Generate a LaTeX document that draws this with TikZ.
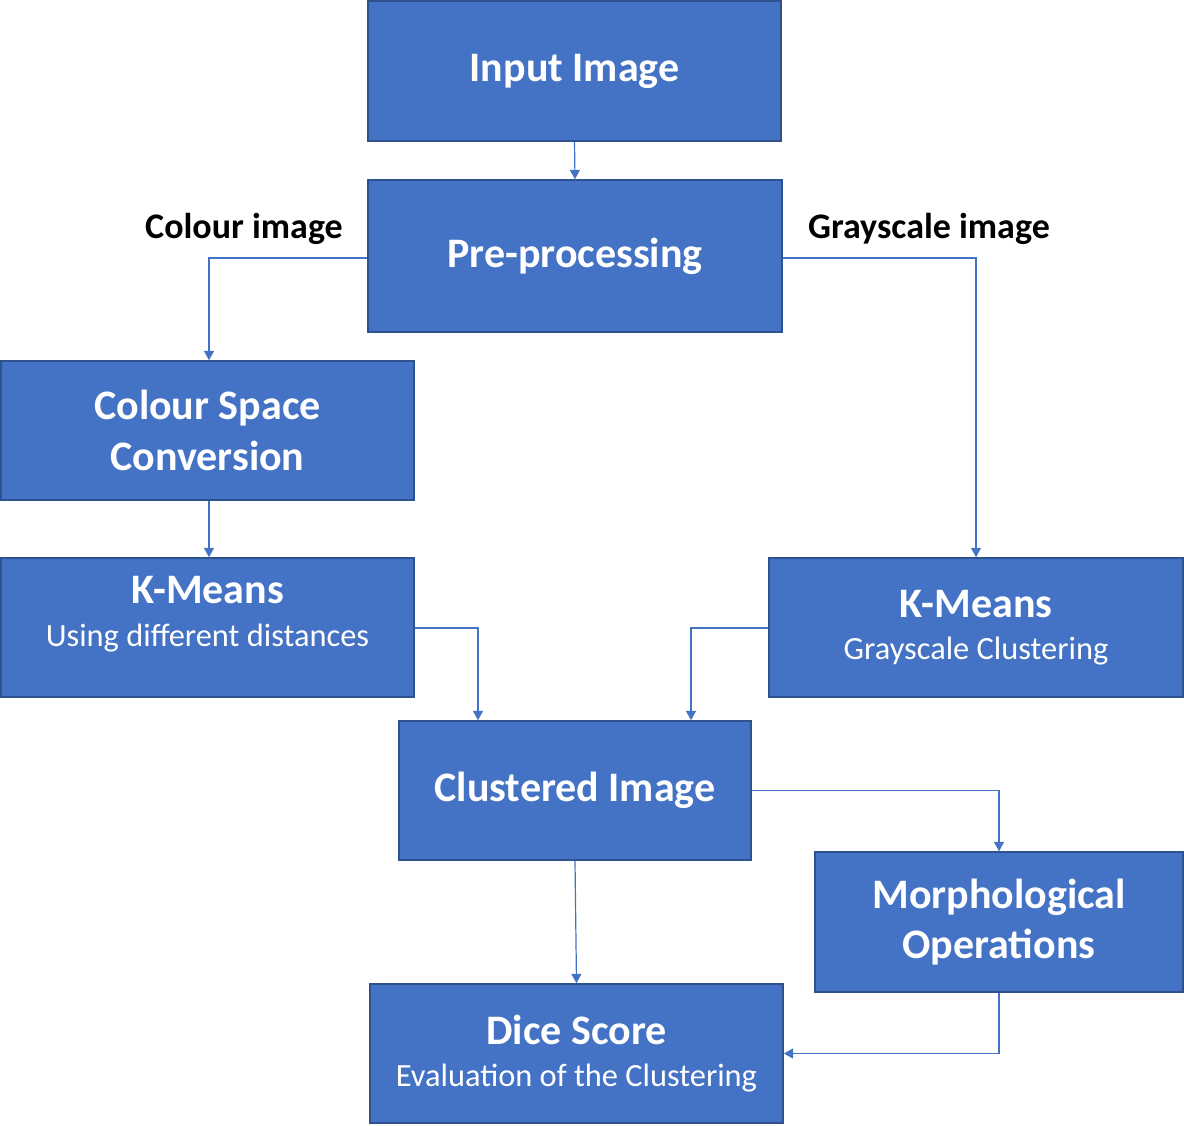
\documentclass[tikz,border=0pt]{standalone}
\usepackage{fontspec}
\setmainfont{Carlito}
\usetikzlibrary{arrows.meta}
\definecolor{boxfill}{HTML}{4472C4}
\definecolor{boxline}{HTML}{2F528F}
\begin{document}
\begin{tikzpicture}[x=0.75pt,y=-0.75pt,
  box/.style={draw=boxline,line width=1.2pt,fill=boxfill,rectangle,inner sep=0pt,text=white,align=center,
    font=\fontsize{31.5}{38}\selectfont\bfseries},
  sub/.style={text=white,align=center,inner sep=0pt,font=\fontsize{31.5}{38}\selectfont\bfseries},
  conn/.style={draw=boxfill,line width=0.9pt,-{Triangle[length=7pt,width=7.5pt]}},
  lbl/.style={text=black,font=\fontsize{27}{30}\selectfont\bfseries,inner sep=0pt}]
\useasboundingbox (0,0) rectangle (1184,1125);
\newcommand{\subt}[1]{{\fontsize{24.3}{24}\selectfont\mdseries #1}}
\node[box,minimum width=309.75pt,minimum height=105pt] (inp) at (574.5,71) {Input Image};
\node[box,minimum width=310.5pt,minimum height=114pt] (pre) at (575,256) {Pre-processing};
\node[box,minimum width=309.75pt,minimum height=104.25pt] (csc) at (207.5,430.5) {Colour Space\\Conversion};
\node[box,minimum width=309.75pt,minimum height=104.25pt] (kml) at (207.5,627.5) {};
\node[sub] (kmlt) at (207.5,614) {K-Means\\[-6pt]\subt{Using different distances}};
\node[box,minimum width=310.5pt,minimum height=104.25pt] (kmr) at (976,627.5) {K-Means\\[-6pt]\subt{Grayscale Clustering}};
\node[box,minimum width=264pt,minimum height=104.25pt] (clu) at (575,790.5) {Clustered Image};
\node[box,minimum width=276pt,minimum height=105pt] (mor) at (999,922) {Morphological\\Operations};
\node[box,minimum width=309.75pt,minimum height=104.25pt] (dic) at (576.5,1053.5) {Dice Score\\[-6pt]\subt{Evaluation of the Clustering}};
\node[lbl] (lc) at (244,229) {Colour image};
\node[lbl] (lg) at (929,229) {Grayscale image};
\coordinate (pl) at (209,258);
\coordinate (pr) at (976,258);
\draw[conn] (inp.south) -- (pre.north);
\draw[conn] (pre.west |- pl) -| (csc.north -| pl);
\draw[conn] (pre.east |- pr) -| (kmr.north);
\draw[conn] (csc.south -| pl) -- (kml.north -| pl);
\draw[conn] (kml.east |- 0,628) -| (clu.north -| 478,0);
\draw[conn] (kmr.west |- 0,628) -| (clu.north -| 691,0);
\draw[conn] (clu.east) -| (mor.north);
\draw[conn] (clu.south) -- (dic.north);
\draw[conn] (mor.south) |- (dic.east);
\end{tikzpicture}
\end{document}
